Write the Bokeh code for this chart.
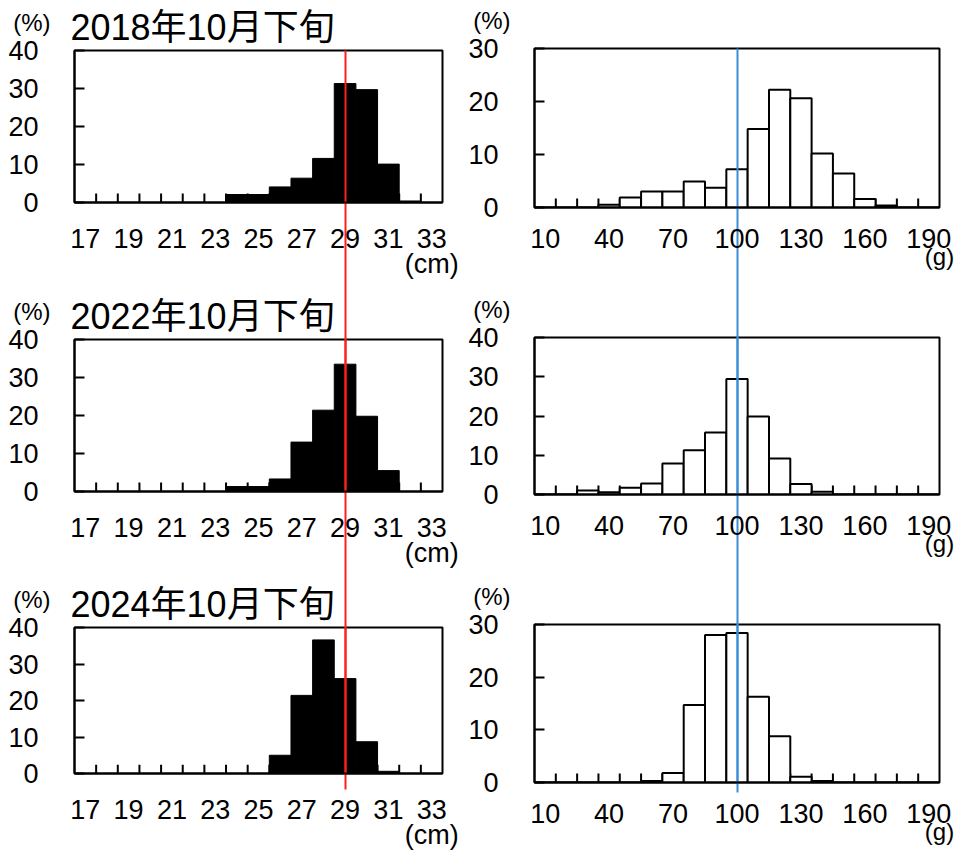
from bokeh.plotting import figure
from bokeh.models import FixedTicker, LinearAxis, Range1d
from bokeh.layouts import row, column
from bokeh.embed import file_html
from bokeh.resources import INLINE

# ---------------- data ----------------
length_bins = list(range(17, 34))            # cm, one bar per 1 cm class
weight_bins = list(range(10, 200, 10))       # g, one bar per 10 g class
length_tick_labels = list(range(17, 34, 2))
weight_tick_labels = list(range(10, 200, 30))

titles = ["2018年10月下旬", "2022年10月下旬", "2024年10月下旬"]

len_2018 = [0, 0, 0, 0, 0, 0, 0, 2.1, 2.1, 4.1, 6.4, 11.6, 31.3, 29.7, 10.1, 0.4, 0]
len_2022 = [0, 0, 0, 0, 0, 0, 0, 1.3, 1.3, 3.3, 13.0, 21.4, 33.5, 19.8, 5.5, 0, 0]
len_2024 = [0, 0, 0, 0, 0, 0, 0, 0, 0, 5.0, 21.4, 36.6, 26.0, 8.7, 0.6, 0, 0]

wt_2018 = [0, 0, 0, 0.5, 1.9, 3.0, 3.0, 4.9, 3.75, 7.2, 14.8, 22.2, 20.6, 10.2, 6.4, 1.6, 0.4, 0, 0]
wt_2022 = [0, 0, 1.0, 0.6, 1.7, 2.8, 7.9, 11.3, 15.8, 29.4, 19.9, 9.2, 2.7, 0.7, 0, 0, 0, 0, 0]
wt_2024 = [0, 0, 0, 0, 0, 0.3, 1.8, 14.7, 28.0, 28.4, 16.3, 8.8, 1.1, 0.3, 0, 0, 0, 0, 0]

length_series = [len_2018, len_2022, len_2024]
weight_series = [wt_2018, wt_2022, wt_2024]
length_ymax = [40, 40, 40]
weight_ymax = [30, 40, 30]

length_unit = "(cm)"
weight_unit = "(g)"
pct_unit = "(%)"

length_ref = 29     # red reference line (cm)
weight_ref = 100    # blue reference line (g)

# ---------------- style / layout ----------------
FONT = "Liberation Sans, Noto Sans CJK JP"
RED = "#ff1e1e"
BLUE = "#3a8dd8"
TICK_PX = 9

LEFT_W, RIGHT_W = 462, 506
ROW_H = [289, 289, 275]
# (border_top, frame_height) per row
LEFT_FR = [(50, 152), (50, 152), (49, 152)]
RIGHT_FR = [(48, 159), (48, 157), (46, 158)]


def ref_axis(ref, color, length):
    """Invisible axis whose single minor tick draws the long reference line."""
    return LinearAxis(ticker=FixedTicker(ticks=[], minor_ticks=[ref]),
                      axis_line_color=None, major_tick_line_color=None,
                      major_tick_in=0, major_tick_out=0,
                      major_label_text_font_size="0px", major_label_standoff=0,
                      minor_tick_line_color=color, minor_tick_line_width=2,
                      minor_tick_in=length, minor_tick_out=0)


def make_panel(bins, vals, bin_w, label_ticks, ymax, ref, ref_color, fill,
               title, unit_on_last_tick, unit, width, height, bl, br, bt, fh, row_i):
    bb = height - bt - fh
    half = bin_w / 2.0
    p = figure(width=width, height=height,
               x_range=Range1d(bins[0] - half, bins[-1] + half),
               y_range=Range1d(0, ymax),
               output_backend="svg", toolbar_location=None,
               min_border_left=bl, min_border_right=br,
               min_border_top=bt, min_border_bottom=bb,
               background_fill_color="white", border_fill_color="white")
    p.xgrid.visible = False
    p.ygrid.visible = False
    p.outline_line_color = "black"
    p.outline_line_width = 2
    p.outline_line_alpha = 1

    # class-boundary tick marks standing on the x axis (behind the bars)
    edges = [b + half for b in bins[:-1]]
    tick_h = ymax * TICK_PX / fh
    p.segment(x0=edges, y0=[0] * len(edges), x1=edges, y1=[tick_h] * len(edges),
              line_color="black", line_width=2)

    p.vbar(x=bins, top=vals, bottom=0, width=bin_w,
           fill_color=fill, line_color="black",
           line_width=2 if fill == "white" else 1)

    if title:
        p.title.text = title
        p.title.text_font = FONT
        p.title.text_font_size = "36px"
        p.title.text_font_style = "normal"
        p.title.text_color = "black"
        p.title.align = "left"
        p.title.offset = -4
        p.title.standoff = 5
    else:
        p.title.visible = False

    xa = p.xaxis[0]
    xa.ticker = FixedTicker(ticks=label_ticks, minor_ticks=[])
    xa.major_tick_line_color = None
    xa.minor_tick_line_color = None
    xa.major_tick_in = 0
    xa.major_tick_out = 0
    xa.axis_line_width = 2
    xa.axis_line_color = "black"
    xa.major_label_text_font = FONT
    xa.major_label_text_font_size = "27px"
    xa.major_label_text_color = "black"
    xa.major_label_text_line_height = 0.85
    xa.major_label_standoff = 21
    if unit_on_last_tick:
        xa.major_label_overrides = {label_ticks[-1]: f"{label_ticks[-1]}\n{unit}"}
    else:
        xa.axis_label = unit
        xa.axis_label_text_font = FONT
        xa.axis_label_text_font_size = "24px"
        xa.axis_label_text_font_style = "normal"
        xa.axis_label_text_color = "black"
        xa.axis_label_standoff = -8
        xa.axis_label_align = "end"

    ya = p.yaxis[0]
    ya.ticker = FixedTicker(ticks=list(range(0, ymax + 1, 10)), minor_ticks=[])
    ya.major_tick_in = 10
    ya.major_tick_out = 0
    ya.major_tick_line_width = 2
    ya.major_tick_line_color = "black"
    ya.minor_tick_line_color = None
    ya.axis_line_width = 2
    ya.axis_line_color = "black"
    ya.major_label_text_font = FONT
    ya.major_label_text_font_size = "27px"
    ya.major_label_text_color = "black"
    ya.major_label_standoff = 36
    ya.axis_label = pct_unit + "\n \n "
    ya.axis_label_text_font = FONT
    ya.axis_label_text_font_size = "24px"
    ya.axis_label_text_font_style = "normal"
    ya.axis_label_text_color = "black"
    ya.axis_label_text_line_height = 1.03
    ya.axis_label_orientation = "horizontal"
    ya.axis_label_align = "end"
    ya.axis_label_standoff = -45

    # reference line: long minor ticks of invisible axes hugging the frame
    above_extra, below_extra = [], []
    if row_i == 0:
        above_extra.append(ref_axis(ref, ref_color, 1000))
    elif row_i == 1:
        above_extra.append(ref_axis(ref, ref_color, 1000))
        below_extra.append(ref_axis(ref, ref_color, 1000))
    else:
        above_extra.append(ref_axis(ref, ref_color, fh + 10))
        below_extra.append(ref_axis(ref, ref_color, 1000))
    p.above = above_extra + list(p.above)
    p.below = below_extra + list(p.below)
    return p


left_col, right_col = [], []
for i in range(3):
    left_col.append(make_panel(length_bins, length_series[i], 1, length_tick_labels,
                               length_ymax[i], length_ref, RED, "black", titles[i],
                               True, length_unit,
                               LEFT_W, ROW_H[i], 74, LEFT_W - 74 - 368,
                               LEFT_FR[i][0], LEFT_FR[i][1], i))
    right_col.append(make_panel(weight_bins, weight_series[i], 10, weight_tick_labels,
                                weight_ymax[i], weight_ref, BLUE, "white", None,
                                False, weight_unit,
                                RIGHT_W, ROW_H[i], 72, RIGHT_W - 72 - 405,
                                RIGHT_FR[i][0], RIGHT_FR[i][1], i))

layout = row(column(*left_col), column(*right_col))

open("out.html", "w").write(file_html(layout, INLINE))
